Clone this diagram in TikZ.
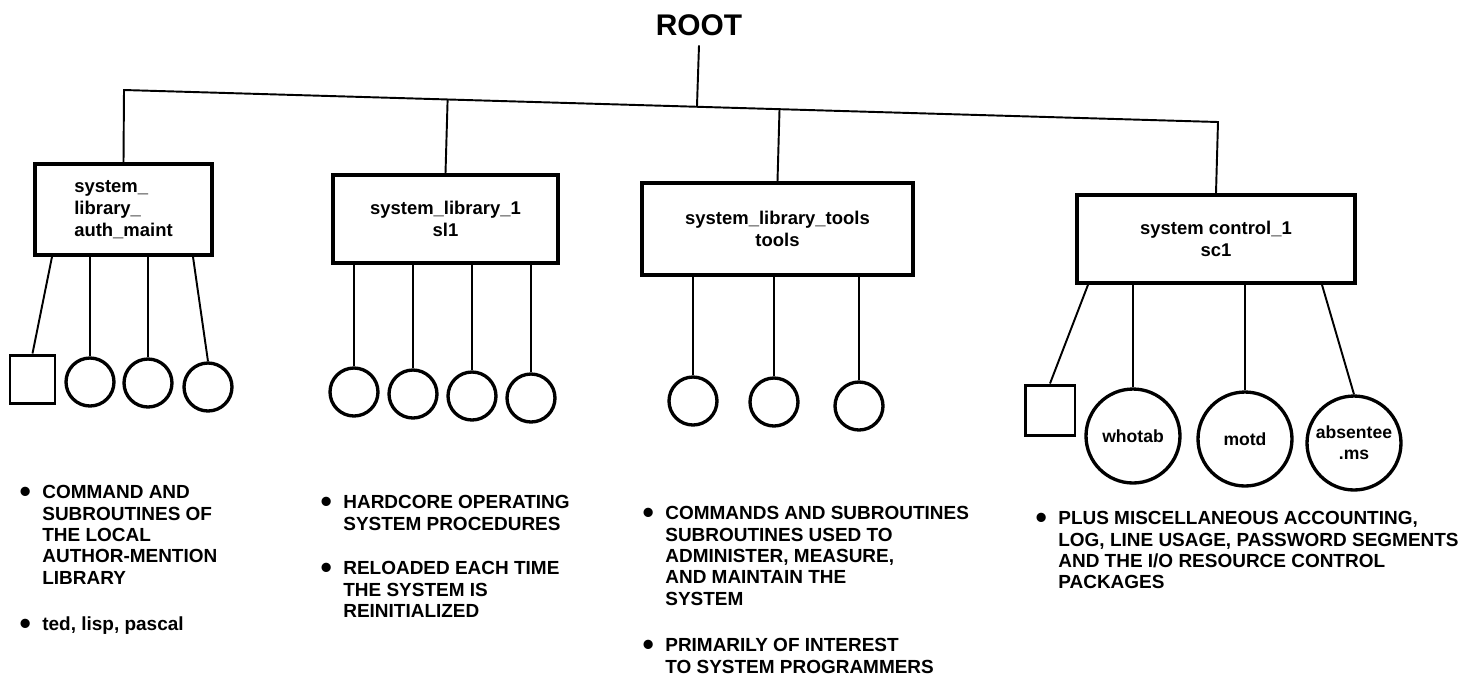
\documentclass[tikz,border=0pt]{standalone}
\usepackage{fontspec}
\setmainfont{Liberation Sans}
\usepackage{graphicx}
\usepackage{tikz}
\usetikzlibrary{positioning, calc}

\newcommand{\itemdot}{\llap{\raisebox{-2.4pt}{\scalebox{1.7}{\textbullet}}\hspace{6.5pt}}}

\begin{document}
\begin{tikzpicture}[
  x=0.02cm, y=-0.02cm,
  libbox/.style={rectangle, draw, line width=2pt, inner sep=0pt, align=center, font=\bfseries\fontsize{10.5}{12.4}\selectfont},
  segcirc/.style={circle, draw, line width=1.9pt, minimum size=0.96cm, inner sep=0pt},
  bigcirc/.style={circle, draw, line width=1.9pt, minimum size=1.88cm, inner sep=0pt, align=center, font=\bfseries\fontsize{10}{12}\selectfont},
  dirbox/.style={rectangle, draw, line width=1.7pt, minimum width=0.9cm, minimum height=0.96cm},
  link/.style={line width=1.1pt},
  note/.style={anchor=north west, inner sep=0pt, align=left, font=\bfseries\fontsize{10.8}{12.2}\selectfont}
]
\useasboundingbox (0,0) rectangle (1465,681);

% root and the four directories
\node[font=\bfseries\fontsize{17}{19}\selectfont, inner sep=2pt] (root) at (699,25) {ROOT};
\node[libbox, align=left, minimum width=3.54cm, minimum height=1.82cm] (sa) at (123.5,209.5) {system\_\\library\_\\auth\_maint};
\node[libbox, minimum width=4.5cm, minimum height=1.76cm] (sb) at (445.5,219) {system\_library\_1\\sl1};
\node[libbox, minimum width=5.42cm, minimum height=1.84cm] (sc) at (777.5,229) {system\_library\_tools\\tools};
\node[libbox, minimum width=5.56cm, minimum height=1.76cm] (sd) at (1216,239) {system control\_1\\sc1};

% bus line
\coordinate (busL) at (124,90);
\coordinate (busR) at (1218,122);
\draw[link] (sa.north) -- (busL) -- (busR) -- (sd.north);
\draw[link] ([yshift=-0.12cm]root.south) -- ($(busL)!(root.south)!(busR)$);
\draw[link] (sb.north) -- ($(busL)!(sb.north)!(busR)$);
\draw[link] (sc.north) -- ($(busL)!(sc.north)!(busR)$);

% system_library_auth_maint
\node[dirbox] (a0) at (32.5,379) {};
\node[segcirc] (a1) at (90,382) {};
\node[segcirc] (a2) at (148,383) {};
\node[segcirc] (a3) at (208,387) {};
\draw[link] ([xshift=-1.43cm]sa.south) -- (a0.north);
\draw[link] (sa.south -| a1.north) -- (a1.north);
\draw[link] (sa.south -| a2.north) -- (a2.north);
\draw[link] ([xshift=1.39cm]sa.south) -- (a3.north);

% system_library_1
\node[segcirc] (b1) at (354,392) {};
\node[segcirc] (b2) at (413,394) {};
\node[segcirc] (b3) at (472,396) {};
\node[segcirc] (b4) at (531,398) {};
\draw[link] (sb.south -| b1.north) -- (b1.north);
\draw[link] (sb.south -| b2.north) -- (b2.north);
\draw[link] (sb.south -| b3.north) -- (b3.north);
\draw[link] (sb.south -| b4.north) -- (b4.north);

% system_library_tools
\node[segcirc] (c1) at (693,401) {};
\node[segcirc] (c2) at (774,402) {};
\node[segcirc] (c3) at (859,406) {};
\draw[link] (sc.south -| c1.north) -- (c1.north);
\draw[link] (sc.south -| c2.north) -- (c2.north);
\draw[link] (sc.south -| c3.north) -- (c3.north);

% system_control_1
\node[dirbox, minimum width=1cm, minimum height=1cm] (d0) at (1050,410) {};
\node[bigcirc] (d1) at (1133,436) {whotab};
\node[bigcirc] (d2) at (1245,439) {motd};
\node[bigcirc] (d3) at (1354,443) {absentee\\.ms};
\draw[link] ([xshift=-2.56cm]sd.south) -- (d0.north);
\draw[link] (sd.south -| d1.north) -- (d1.north);
\draw[link] (sd.south -| d2.north) -- (d2.north);
\draw[link] ([xshift=2.12cm]sd.south) -- (d3.north);

% notes
\node[note] (na1) at (42,485) {\itemdot COMMAND AND\\SUBROUTINES OF\\THE LOCAL\\AUTHOR-MENTION\\LIBRARY};
\node[note] (na2) at (42,616) {\itemdot ted, lisp, pascal};
\node[note] (nb1) at (343,495) {\itemdot HARDCORE OPERATING\\SYSTEM PROCEDURES};
\node[note] (nb2) at (343,561) {\itemdot RELOADED EACH TIME\\THE SYSTEM IS\\REINITIALIZED};
\node[note] (nc1) at (665,506) {\itemdot COMMANDS AND SUBROUTINES\\SUBROUTINES USED TO\\ADMINISTER, MEASURE,\\AND MAINTAIN THE\\SYSTEM};
\node[note] (nc2) at (665,638) {\itemdot PRIMARILY OF INTEREST\\TO SYSTEM PROGRAMMERS};
\node[note] (nd1) at (1058,511) {\itemdot PLUS MISCELLANEOUS ACCOUNTING,\\LOG, LINE USAGE, PASSWORD SEGMENTS\\AND THE I/O RESOURCE CONTROL\\PACKAGES};

\end{tikzpicture}
\end{document}
